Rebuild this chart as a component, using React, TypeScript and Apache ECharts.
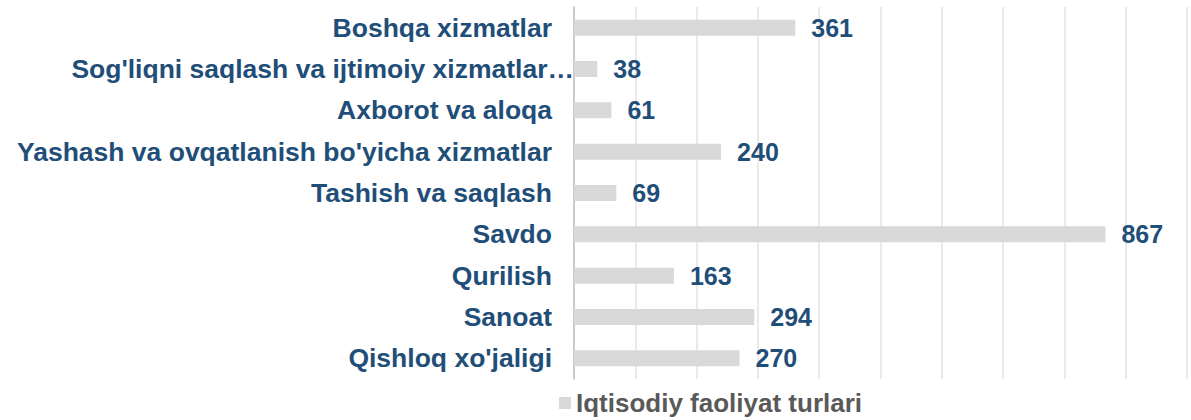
import React, { useEffect, useRef } from "react";
import * as echarts from "echarts";

const categories = [
  "Qishloq xo'jaligi",
  "Sanoat",
  "Qurilish",
  "Savdo",
  "Tashish va saqlash",
  "Yashash va ovqatlanish bo'yicha xizmatlar",
  "Axborot va aloqa",
  "Sog'liqni saqlash va ijtimoiy xizmatlar…",
  "Boshqa xizmatlar",
];
const values = [270, 294, 163, 867, 69, 240, 61, 38, 361];
const seriesName = "Iqtisodiy faoliyat turlari";
const overflowCategory = "Sog'liqni saqlash va ijtimoiy xizmatlar…";

const FONT = "Liberation Sans, Arial, sans-serif";

export default function App() {
  const ref = useRef<HTMLDivElement>(null);
  useEffect(() => {
    const chart = echarts.init(ref.current!, null, { renderer: "svg" });
    chart.setOption({
      animation: false,
      grid: { left: 574, right: 4, top: 7, bottom: 41, containLabel: false },
      legend: {
        top: 385,
        left: 554,
        itemWidth: 12,
        itemHeight: 12,
        itemGap: 6,
        icon: "rect",
        textStyle: { color: "#595959", fontWeight: "bold", fontSize: 26, fontFamily: FONT },
        data: [seriesName],
      },
      xAxis: {
        type: "value",
        min: 0,
        max: 1000,
        interval: 100,
        axisLabel: { show: false },
        axisLine: { show: false },
        axisTick: { show: false },
        splitLine: { show: true, lineStyle: { color: "#E3E3E3", width: 1.5 } },
      },
      yAxis: {
        type: "category",
        data: categories.map((c) =>
          c === overflowCategory ? { value: c, textStyle: { padding: [0, -22, 0, 0] } } : c
        ),
        axisLine: { show: true, lineStyle: { color: "#BFBFBF", width: 1.5 } },
        axisTick: { show: false },
        axisLabel: {
          margin: 22,
          color: "#1F4E79",
          fontWeight: "bold",
          fontSize: 26.5,
          fontFamily: FONT,
        },
      },
      series: [
        {
          name: seriesName,
          type: "bar",
          data: values,
          barWidth: 16,
          itemStyle: { color: "#D9D9D9" },
          label: {
            show: true,
            position: "right",
            distance: 16,
            color: "#1F4E79",
            fontWeight: "bold",
            fontSize: 25,
            fontFamily: FONT,
          },
        },
      ],
    });
    return () => chart.dispose();
  }, []);
  return <div ref={ref} style={{ width: 1191, height: 420, position: "absolute", left: 0, top: 0 }} />;
}
